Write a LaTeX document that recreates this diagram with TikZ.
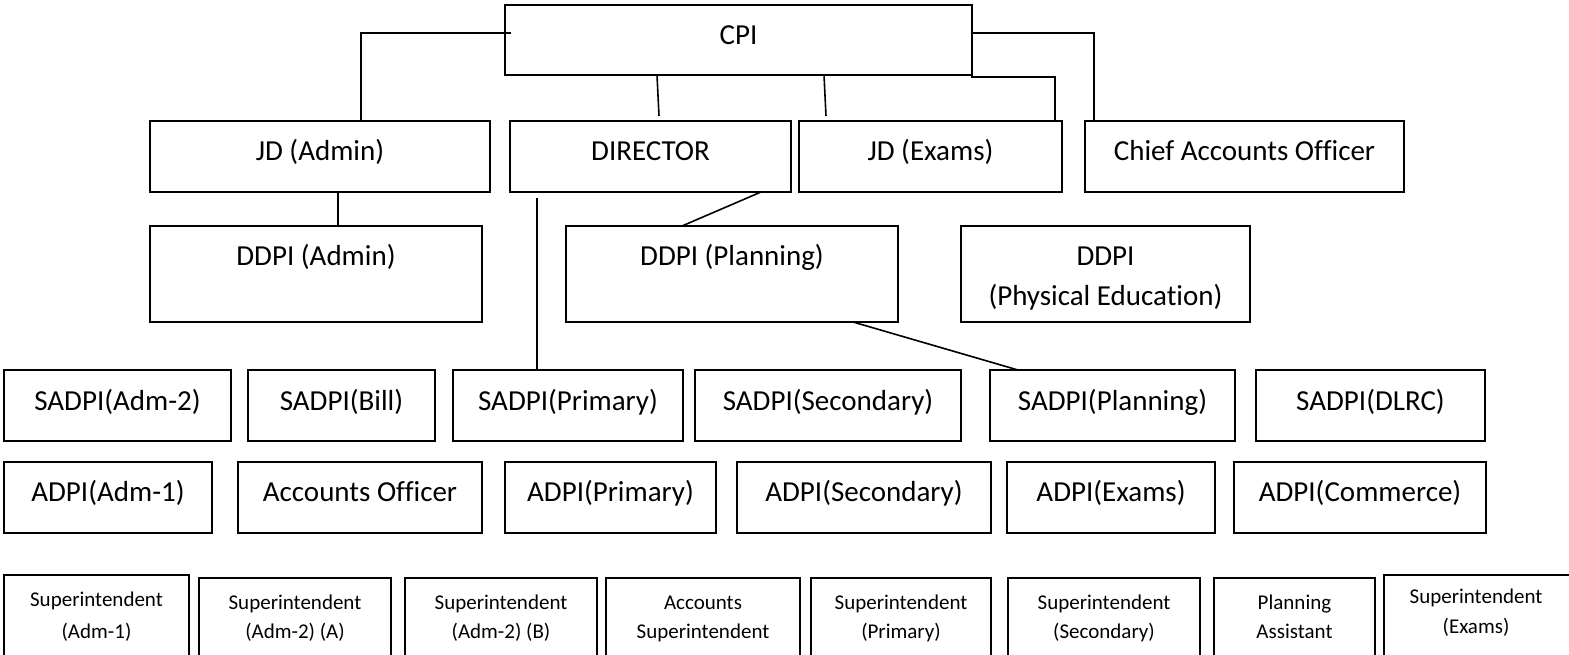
\documentclass[tikz,border=0pt]{standalone}
\usepackage{fontspec}
\setmainfont{Carlito}[Ligatures=NoCommon]
\tikzset{
  box/.style={draw, line width=1.6pt, inner sep=0pt, outer sep=0pt},
  lbl/.style={inner sep=0pt, yshift=-6pt, font=\fontsize{29}{35}\selectfont, text height=0.72em, text depth=0.2em},
  slbl/.style={inner sep=0pt, yshift=-4pt, font=\fontsize{21}{25}\selectfont, text height=0.72em, text depth=0.2em},
  con/.style={line width=1.6pt},
}
\newcommand\orgbox[5]{%
  \pgfmathsetmacro\obw{#4-#2}\pgfmathsetmacro\obh{#5-#3}%
  \pgfmathsetmacro\obcx{(#2+#4)/2}\pgfmathsetmacro\obcy{(#3+#5)/2}%
  \node[box, minimum width=\obw pt, minimum height=\obh pt] (#1) at (\obcx,\obcy) {};}
\begin{document}
\begin{tikzpicture}[x=1pt,y=-1pt]
\useasboundingbox (0,0) rectangle (1569,655);
\fill[white] (0,0) rectangle (1569,655);
\clip (0,0) rectangle (1569,655);
% row 1
\orgbox{cpi}{505}{5}{972}{75}
\node[lbl] at (cpi |- 0,36) {CPI};
% row 2
\orgbox{jdadmin}{150}{121}{490}{192}
\node[lbl] at (jdadmin |- 0,152) {JD (Admin)};
\orgbox{director}{510}{121}{791}{192}
\node[lbl] at (director |- 0,152) {DIRECTOR};
\orgbox{jdexams}{799}{121}{1062}{192}
\node[lbl] at (jdexams |- 0,152) {JD (Exams)};
\orgbox{chief}{1085}{121}{1404}{192}
\node[lbl] at (chief |- 0,152) {Chief Accounts Officer};
% row 3
\orgbox{ddpiadmin}{150}{226}{482}{322}
\node[lbl] at (ddpiadmin |- 0,257) {DDPI (Admin)};
\orgbox{ddpiplan}{566}{226}{898}{322}
\node[lbl] at (ddpiplan |- 0,257) {DDPI (Planning)};
\orgbox{ddpipe}{961}{226}{1250}{322}
\node[lbl] at (ddpipe |- 0,257) {DDPI};
\node[lbl] at (ddpipe |- 0,297) {(Physical Education)};
% row 4
\orgbox{sadm}{4}{370}{231}{441}
\node[lbl] at (sadm |- 0,402) {SADPI(Adm-2)};
\orgbox{sbill}{248}{370}{435}{441}
\node[lbl] at (sbill |- 0,402) {SADPI(Bill)};
\orgbox{sprimary}{453}{370}{683}{441}
\node[lbl] at (sprimary |- 0,402) {SADPI(Primary)};
\orgbox{ssecondary}{695}{370}{961}{441}
\node[lbl] at (ssecondary |- 0,402) {SADPI(Secondary)};
\orgbox{splanning}{990}{370}{1235}{441}
\node[lbl] at (splanning |- 0,402) {SADPI(Planning)};
\orgbox{sdlrc}{1256}{370}{1485}{441}
\node[lbl] at (sdlrc |- 0,402) {SADPI(DLRC)};
% row 5
\orgbox{aadm}{4}{462}{212}{533}
\node[lbl] at (aadm |- 0,493) {ADPI(Adm-1)};
\orgbox{aoff}{238}{462}{482}{533}
\node[lbl] at (aoff |- 0,493) {Accounts Officer};
\orgbox{aprimary}{505}{462}{716}{533}
\node[lbl] at (aprimary |- 0,493) {ADPI(Primary)};
\orgbox{asecondary}{737}{462}{991}{533}
\node[lbl] at (asecondary |- 0,493) {ADPI(Secondary)};
\orgbox{aexams}{1007}{462}{1215}{533}
\node[lbl] at (aexams |- 0,493) {ADPI(Exams)};
\orgbox{acommerce}{1234}{462}{1486}{533}
\node[lbl] at (acommerce |- 0,493) {ADPI(Commerce)};
% row 6
\orgbox{sup1}{4}{575}{189}{700}
\node[slbl] at (sup1 |- 0,600) {Superintendent};
\node[slbl] at (sup1 |- 0,632) {(Adm-1)};
\orgbox{sup2}{199}{578}{391}{700}
\node[slbl] at (sup2 |- 0,603) {Superintendent};
\node[slbl] at (sup2 |- 0,632) {(Adm-2) (A)};
\orgbox{sup3}{405}{578}{597}{700}
\node[slbl] at (sup3 |- 0,603) {Superintendent};
\node[slbl] at (sup3 |- 0,632) {(Adm-2) (B)};
\orgbox{sup4}{606}{578}{800}{700}
\node[slbl] at (sup4 |- 0,603) {Accounts};
\node[slbl] at (sup4 |- 0,632) {Superintendent};
\orgbox{sup5}{811}{578}{991}{700}
\node[slbl] at (sup5 |- 0,603) {Superintendent};
\node[slbl] at (sup5 |- 0,632) {(Primary)};
\orgbox{sup6}{1008}{578}{1200}{700}
\node[slbl] at (sup6 |- 0,603) {Superintendent};
\node[slbl] at (sup6 |- 0,632) {(Secondary)};
\orgbox{sup7}{1214}{578}{1375}{700}
\node[slbl] at (sup7 |- 0,603) {Planning};
\node[slbl] at (sup7 |- 0,632) {Assistant};
\orgbox{sup8}{1384}{575}{1600}{700}
\node[slbl] at (1476,597) {Superintendent};
\node[slbl] at (1476,627) {(Exams)};
% connectors
\draw[con] ([xshift=6pt,yshift=7pt]cpi.west) -| ([xshift=41pt]jdadmin.north);
\draw[con] ([yshift=7pt]cpi.east) -| ([xshift=-150.5pt]chief.north);
\draw[con] ([yshift=7pt]cpi.east) -- ([yshift=-2pt]cpi.south east) -| ([xshift=124.5pt]jdexams.north);
\draw[con] ([xshift=-81.5pt]cpi.south) -- ([xshift=8.5pt,yshift=5pt]director.north);
\draw[con] ([xshift=85.5pt]cpi.south) -- ([xshift=-104.5pt,yshift=5pt]jdexams.north);
\draw[con] ([xshift=18pt]jdadmin.south) -- ([xshift=18pt]jdadmin.south |- ddpiadmin.north);
\draw[con] ([xshift=110.5pt]director.south) -- ([xshift=-50pt]ddpiplan.north);
\coordinate (dirfree) at ([xshift=-113.5pt,yshift=-6pt]director.south);
\draw[con] (dirfree) -- (dirfree |- sprimary.north);
\draw[con] ([xshift=121pt]ddpiplan.south) -- ([xshift=-94.5pt]splanning.north);
\end{tikzpicture}
\end{document}
